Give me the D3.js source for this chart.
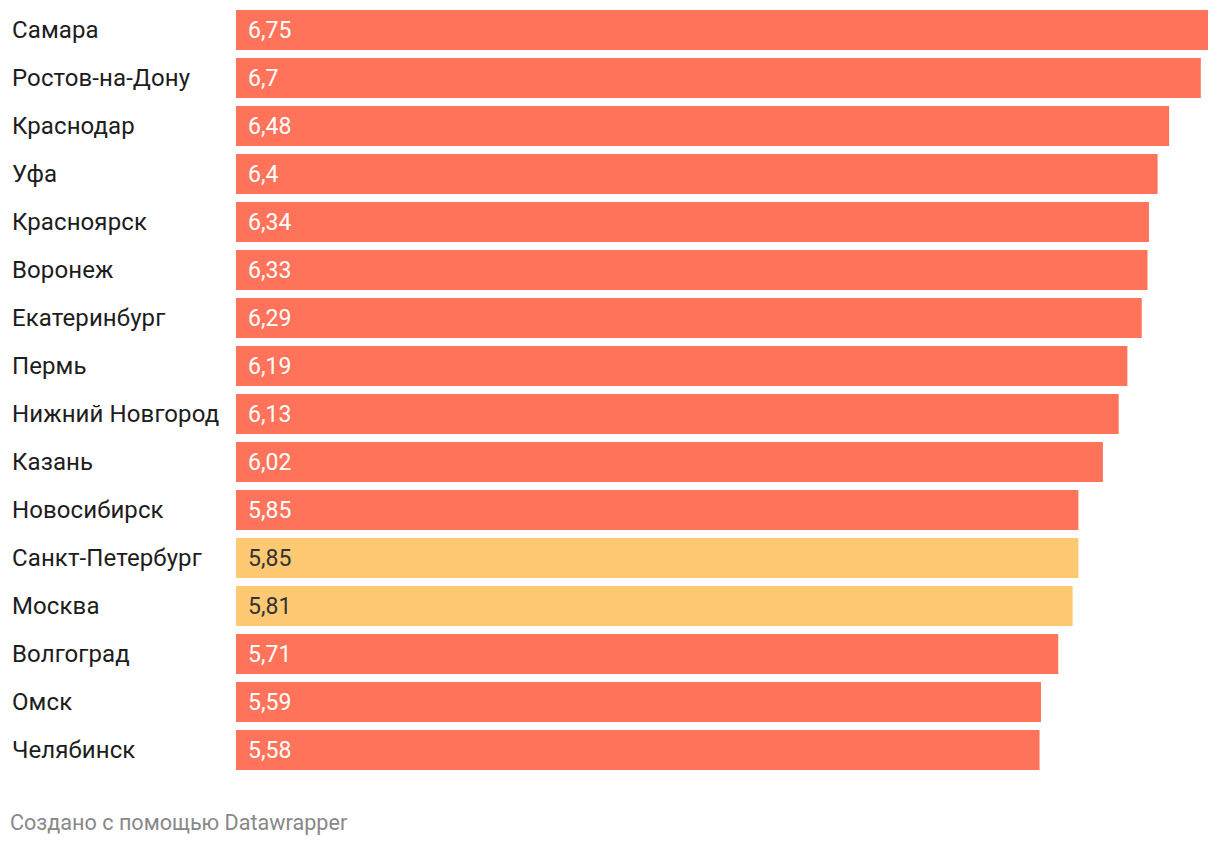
<!DOCTYPE html>
<html>
<head>
    <meta charset="utf-8">
    <title>Cities</title>
    <script src="https://d3js.org/d3.v7.min.js"></script>
    <style>
        body { margin:0; background:#fff; font-family: Roboto, sans-serif; }
        .label { fill:#1d1d1d; font-size:24px; letter-spacing:0.1px; }
        .value { font-size:23px; }
        .credit { fill:#888; font-size:21.6px; }
    </style>
</head>
<body>
    <script>
    var cities = ["Самара","Ростов-на-Дону","Краснодар","Уфа","Красноярск","Воронеж",
                  "Екатеринбург","Пермь","Нижний Новгород","Казань","Новосибирск",
                  "Санкт-Петербург","Москва","Волгоград","Омск","Челябинск"];
    var values = [6.75, 6.7, 6.48, 6.4, 6.34, 6.33, 6.29, 6.19, 6.13, 6.02, 5.85, 5.85, 5.81, 5.71, 5.59, 5.58];
    var highlight = ["Санкт-Петербург","Москва"];

    var data = cities.map(function(c, i) { return {city:c, value:values[i]}; });

    var svg = d3.select("body").append("svg")
                .attr("width",1220).attr("height",846);

    var x = d3.scaleLinear().domain([0, 6.75]).range([236, 1208]);
    var y = d3.scaleBand().domain(cities).range([6, 774]).paddingInner(8/48).paddingOuter(4/48);

    var rows = svg.append("g").selectAll("g").data(data).enter().append("g");

    rows.append("rect")
        .attr("x", x(0))
        .attr("y", function(d){ return y(d.city); })
        .attr("width", function(d){ return x(d.value) - x(0); })
        .attr("height", y.bandwidth())
        .attr("fill", function(d){ return highlight.indexOf(d.city) >= 0 ? "#ffc973" : "#ff735a"; });

    rows.append("text").attr("class","label")
        .attr("x", 12)
        .attr("y", function(d){ return y(d.city) + y.bandwidth()/2; })
        .attr("dy", "0.35em")
        .text(function(d){ return d.city; });

    rows.append("text").attr("class","value")
        .attr("x", x(0) + 12)
        .attr("y", function(d){ return y(d.city) + y.bandwidth()/2; })
        .attr("dy", "0.35em")
        .attr("fill", function(d){ return highlight.indexOf(d.city) >= 0 ? "#333" : "#fff"; })
        .text(function(d){ return String(d.value).replace(".", ","); });

    svg.append("text").attr("class","credit")
        .attr("x", 10).attr("y", 830)
        .text("Создано с помощью Datawrapper");
    </script>
</body>
</html>
